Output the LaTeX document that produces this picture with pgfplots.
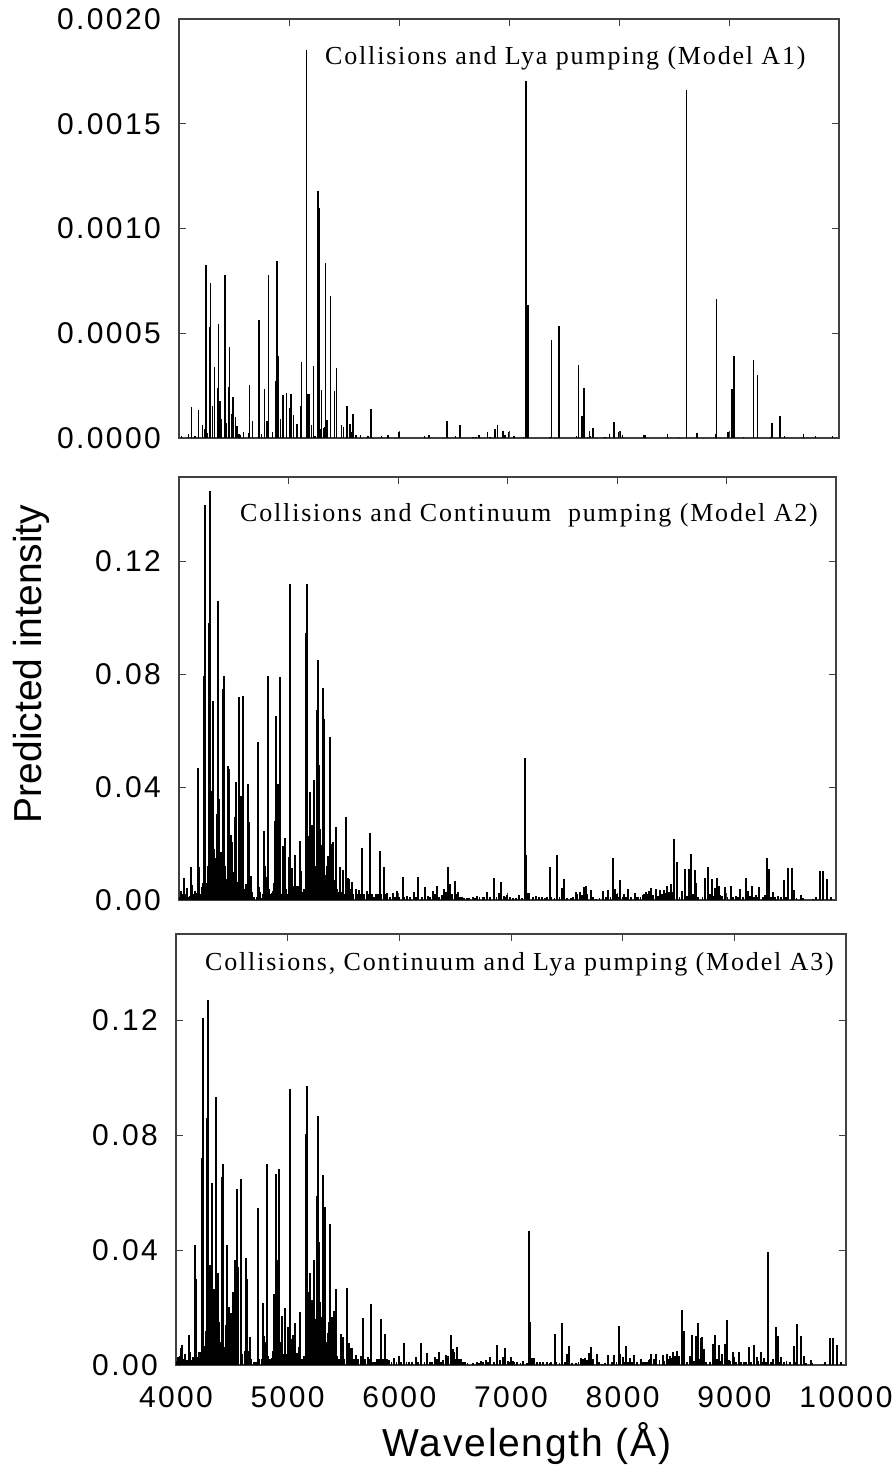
\documentclass[border=0pt]{standalone}
\usepackage{fontspec}
\usepackage{pgfplots}
\pgfplotsset{compat=1.18}
\setmainfont{Liberation Sans}
\newfontfamily\annot[LetterSpace=7]{Liberation Serif}
\newfontfamily\xlab[LetterSpace=4.5]{Liberation Sans}
\newfontfamily\ticklab[LetterSpace=8]{Liberation Sans}

\pgfplotsset{
  panel/.style={
    anchor=south west, scale only axis,
    xmin=4000, xmax=10000,
    axis line style={draw=black!75, line width=1.1pt},
    tick style={draw=black!75, line width=1pt},
    tick align=inside, major tick length=7pt,
    xtick={4000,5000,6000,7000,8000,9000,10000},
    xticklabels={},
    scaled x ticks=false, scaled y ticks=false,
    xtick pos=both, ytick pos=both,
    tick label style={font=\ticklab\fontsize{30}{35}\selectfont, inner sep=0pt},
    yticklabel shift=18pt, xticklabel shift=21pt,
    clip=true,
  },
  lines/.style={ycomb, draw=black, line width=1.8pt, no markers},
}

\begin{document}
\begin{tikzpicture}[x=1pt,y=1pt]
\path[use as bounding box] (0,0) rectangle (893,1472);

% Model A1
\begin{axis}[panel, at={(179pt,1034pt)}, width=660pt, height=419pt,
    ymin=0, ymax=0.0020,
    ytick={0,0.0005,0.0010,0.0015,0.0020},
    yticklabels={0.0000,0.0005,0.0010,0.0015,0.0020}]
\addplot[lines, line width=1.6pt] coordinates {
(4024,.00001)(4085,.00002)(4115,.00015)(4145,.00001)(4179,.000135)(4215,.000063)(4230,.000044)(4245,.000825)
(4260,.000024)(4279,.000532)(4288,.000738)(4303,.000154)(4321,.000338)(4351,.000238)(4360,.000543)(4373,.000175)
(4388,.00009)(4415,.000381)(4418,.000778)(4433,.00007)(4451,.000243)(4460,.000436)(4478,.000116)(4491,.000198)
(4515,.0001)(4527,.000059)(4545,.00002)(4557,.000016)(4588,.00003)(4633,.000024)(4642,.000252)(4667,.00008)
(4727,.000563)(4751,.00002)(4779,.000233)(4797,.000083)(4806,.000083)(4815,.000778)(4851,.000027)(4879,.00027)
(4891,.000844)(4903,.000389)(4921,.00009)(4948,.000206)(4976,.000214)(5003,.000143)(5018,.000211)(5042,.000111)
(5072,.000068)(5103,.000154)(5112,.000365)(5160,.00185)(5173,.000211)(5182,.000211)(5203,.000063)(5221,.000344)
(5239,.00001)(5263,.00118)(5272,.0011)(5282,.000043)(5297,.00023)(5312,.000048)(5324,.000052)(5333,.000833)
(5345,.000084)(5376,.000678)(5412,.000225)(5433,.000336)(5476,.000062)(5494,.000052)(5527,.000154)(5557,.000067)
(5566,.00003)(5582,.000116)(5609,.000016)(5651,.000016)(5718,.000011)(5745,.00014)(5842,.00001)(5900,.000016)
(6000,.00003)(6230,.00001)(6272,.000013)(6436,.000083)(6515,.00001)(6557,.00006)
(6670,.000005)(6700,.000005)(6727,.000016)(6806,.00003)(6827,.000005)(6873,.000044)(6894,.000063)(6945,.000032)
(6964,.000016)(6994,.000029)(7045,.000011)(7130,.000005)(7152,.001706)(7164,.000635)(7173,.000635)(7373,.000005)
(7385,.000468)(7452,.000535)(7615,.000011)(7633,.000349)(7664,.000106)(7682,.000238)(7712,.000005)(7730,.000035)
(7739,.000008)(7761,.000048)(7873,.000006)(7915,.000019)(7955,.000076)(7997,.000029)(8015,.000035)(8033,.000014)
(8227,.000013)(8240,.000014)(8442,.000021)(8542,.000003)(8612,.001659)(8709,.000024)(8879,.000021)(8888,.000663)
(8991,.000029)(9027,.000235)(9045,.000392)(9130,.000003)(9221,.000373)(9260,.000302)(9382,.000005)(9391,.000071)
(9461,.000103)(9506,.000011)(9676,.000019)(9788,.000008)(9942,.000008)
};
\end{axis}

% Model A2
\begin{axis}[panel, at={(179pt,572pt)}, width=657pt, height=423pt,
    ymin=0, ymax=0.15,
    ytick={0,0.04,0.08,0.12},
    yticklabels={0.00,0.04,0.08,0.12}]
\addplot[lines] coordinates {
(4018,.0033)(4027,.0021)(4043,.0077)(4055,.0015)(4070,.0043)(4085,.0012)(4107,.0116)(4122,.0053)(4137,.0012)(4146,.0031)
(4161,.0015)(4170,.0467)(4177,.0319)(4180,.0116)(4198,.0021)(4207,.0047)(4222,.0015)(4231,.0796)(4240,.14)(4253,.0045)
(4259,.0051)(4271,.0983)(4286,.1449)(4301,.0388)(4314,.0707)(4329,.0045)(4344,.0305)(4353,.1059)(4368,.0358)(4384,.0169)
(4399,.0027)(4405,.0749)(4414,.0796)(4429,.0075)(4447,.0474)(4460,.0463)(4472,.0232)(4487,.0205)(4508,.0296)(4521,.0418)
(4527,.0063)(4542,.0063)(4548,.0719)(4563,.037)(4572,.0116)(4581,.0722)(4603,.0027)(4612,.0057)(4627,.0412)(4639,.0276)
(4660,.0086)(4679,.0009)(4724,.0562)(4734,.0045)(4755,.0006)(4773,.0244)(4791,.0083)(4810,.0796)(4831,.0012)(4846,.0024)
(4855,.0031)(4874,.0279)(4886,.0654)(4901,.0412)(4907,.0412)(4919,.079)(4938,.0021)(4947,.0193)(4971,.022)(4989,.0021)
(5001,.0151)(5017,.1119)(5035,.0114)(5059,.0161)(5074,.0051)(5090,.0027)(5105,.0208)(5114,.0104)(5135,.0021)(5157,.0946)
(5169,.1119)(5178,.0228)(5196,.0382)(5218,.0267)(5233,.0424)(5248,.0063)(5257,.0674)(5269,.0852)(5282,.0477)(5297,.0196)
(5312,.0751)(5327,.0642)(5342,.0086)(5361,.0157)(5376,.0577)(5385,.0199)(5409,.0207)(5431,.026)(5449,.0009)(5473,.0118)
(5495,.0108)(5522,.0296)(5540,.0078)(5552,.0075)(5577,.0065)(5613,.0039)(5641,.0035)(5668,.0183)(5714,.0033)(5744,.0238)
(5759,.0021)(5799,.0021)(5836,.0175)(5869,.0118)(5902,.0024)(5951,.0025)(5988,.0033)(6042,.0083)(6085,.0013)(6146,.003)
(6186,.0083)(6246,.0047)(6277,.0013)(6316,.0031)(6353,.0051)(6399,.0019)(6420,.0039)(6453,.0118)(6475,.0057)(6517,.0069)
(6548,.0027)(6581,.0012)(6627,.0007)
(6688,.0009)(6724,.0015)(6773,.0009)(6810,.0027)(6874,.0077)(6925,.0024)(6944,.0065)(6965,.0013)(6995,.0019)(7047,.0007)
(7108,.0017)(7157,.0503)(7169,.0159)(7199,.0024)(7260,.0013)(7312,.0012)(7358,.0011)(7388,.0118)(7452,.0158)(7498,.0042)
(7513,.0074)(7580,.0007)(7622,.0027)(7659,.0027)(7699,.0045)(7714,.005)(7762,.0037)(7808,.0005)(7869,.0033)(7918,.0037)
(7960,.0149)(7979,.0039)(7997,.0021)(8027,.0071)(8067,.0021)(8097,.0039)(8161,.0025)(8195,.0009)(8234,.0019)(8262,.003)
(8292,.0033)(8310,.0041)(8356,.0039)(8393,.0037)(8429,.0037)(8457,.005)(8493,.0057)(8524,.0215)(8545,.0133)(8594,.0031)
(8621,.0109)(8657,.0111)(8676,.0163)(8709,.0106)(8724,.0061)(8807,.0079)(8828,.0116)(8864,.0076)(8895,.0041)(8913,.0078)
(8928,.005)(8986,.0046)(9041,.005)(9084,.0015)(9123,.0039)(9178,.0078)(9199,.0033)(9233,.0051)(9266,.0019)(9300,.0046)
(9351,.0019)(9370,.0149)(9391,.0111)(9422,.0027)(9473,.0013)(9528,.0072)(9561,.0113)(9595,.0113)(9616,.0035)(9680,.0018)
(9814,.0009)(9854,.0103)(9884,.0103)(9918,.0076)(9954,.0011)
};
% weak lines along the baseline
\addplot[lines] coordinates {
(4012,.0012)(4035,.0018)(4050,.0024)(4063,.002)(4078,.0012)(4095,.0014)(4115,.0016)(4130,.002)(4155,.0024)(4188,.0028)
(4215,.006)(4225,.0035)(4246,.006)(4264,.012)(4278,.03)(4293,.028)(4308,.022)(4322,.018)(4336,.015)(4361,.03)
(4376,.012)(4392,.009)(4421,.012)(4438,.006)(4454,.018)(4466,.014)(4480,.012)(4494,.009)(4503,.01)(4515,.012)
(4535,.006)(4556,.02)(4590,.004)(4620,.005)(4632,.01)(4648,.006)(4668,.003)(4690,.001)(4710,.001)(4745,.003)
(4765,.002)(4782,.012)(4800,.006)(4820,.004)(4840,.002)(4865,.006)(4880,.018)(4893,.03)(4913,.02)(4925,.009)
(4955,.005)(4962,.003)(4980,.004)(5010,.008)(5025,.01)(5045,.005)(5068,.004)(5082,.003)(5098,.005)(5125,.003)
(5145,.004)(5163,.03)(5185,.01)(5205,.012)(5225,.014)(5241,.012)(5262,.02)(5275,.03)(5290,.025)(5303,.012)
(5318,.03)(5335,.009)(5350,.012)(5368,.01)(5392,.006)(5402,.008)(5420,.007)(5440,.004)(5460,.003)(5485,.003)
(5505,.002)(5530,.006)(5560,.004)(5590,.002)(5625,.002)(5655,.002)(5690,.002)(5730,.002)(5780,.001)(5820,.002)
(5850,.002)(5885,.002)(5930,.001)(5970,.001)(6010,.001)(6060,.001)(6110,.001)(6165,.001)(6220,.001)(6295,.001)
(6335,.002)(6375,.001)(6435,.003)(6465,.003)(6495,.002)(6535,.002)(6565,.001)(6605,.0008)(6650,.0008)(6705,.0008)
(6745,.001)(6790,.001)(6840,.0012)(6900,.001)(6980,.001)(7020,.001)(7075,.0006)(7130,.0006)(7180,.0025)(7230,.0012)
(7285,.0012)(7340,.0008)(7400,.0012)(7430,.0006)(7475,.001)(7540,.0006)(7600,.0012)(7640,.002)(7680,.0018)(7730,.002)
(7780,.001)(7840,.0006)(7900,.001)(7940,.0012)(8010,.001)(8050,.0012)(8080,.0012)(8130,.001)(8180,.0012)(8215,.0012)
(8250,.002)(8280,.002)(8330,.0018)(8375,.0015)(8410,.002)(8440,.0025)(8475,.003)(8505,.003)(8570,.001)(8640,.0015)
(8695,.002)(8740,.0012)(8780,.001)(8850,.002)(8880,.0015)(8945,.0018)(8960,.0015)(9010,.0012)(9060,.0012)(9105,.0012)
(9150,.0012)(9215,.0015)(9250,.001)(9285,.0012)(9330,.001)(9405,.001)(9445,.001)(9500,.001)(9545,.001)(9640,.0008)
(9700,.0007)(9790,.0004)
};
\end{axis}

% Model A3
\begin{axis}[panel, at={(176pt,107pt)}, width=670pt, height=431pt,
    ymin=0, ymax=0.15,
    ytick={0,0.04,0.08,0.12},
    yticklabels={0.00,0.04,0.08,0.12},
    xticklabels={4000,5000,6000,7000,8000,9000,10000}]
\addplot[lines] coordinates {
(4021,.0029)(4045,.0058)(4054,.007)(4078,.0038)(4113,.0104)(4125,.0046)(4155,.0029)(4173,.0417)(4182,.0298)(4209,.0044)
(4233,.0719)(4242,.1209)(4257,.0041)(4275,.0858)(4287,.127)(4305,.0348)(4320,.0632)(4343,.0263)(4355,.0933)(4373,.0319)
(4388,.0151)(4412,.0655)(4418,.0698)(4433,.0064)(4454,.0417)(4460,.0406)(4472,.0203)(4490,.0182)(4508,.0255)(4525,.0365)
(4540,.0054)(4549,.0611)(4558,.034)(4579,.0104)(4582,.0647)(4627,.0371)(4639,.0301)(4666,.0096)(4731,.0545)(4737,.0041)
(4776,.0217)(4800,.0081)(4815,.0698)(4857,.0023)(4878,.0247)(4893,.0663)(4905,.0365)(4911,.0313)(4922,.0682)(4952,.017)
(4973,.0197)(5003,.0133)(5018,.0959)(5045,.0104)(5063,.0147)(5081,.0043)(5099,.0064)(5110,.0183)(5134,.0017)(5161,.0803)
(5173,.097)(5185,.0255)(5200,.0319)(5221,.0226)(5236,.0365)(5263,.0588)(5275,.0866)(5284,.0429)(5299,.0168)(5317,.0661)
(5331,.0551)(5349,.0081)(5367,.0151)(5379,.049)(5397,.0168)(5415,.0188)(5436,.0263)(5475,.0108)(5496,.0096)(5528,.0267)
(5546,.0075)(5561,.0058)(5579,.0058)(5615,.0035)(5654,.0031)(5675,.0162)(5720,.0029)(5746,.0214)(5761,.0012)(5800,.002)
(5836,.0159)(5869,.0108)(5905,.0017)(5952,.0023)(5994,.0031)(6045,.0075)(6090,.0012)(6149,.0027)(6191,.0075)(6248,.0041)
(6275,.0012)(6320,.0029)(6352,.0046)(6394,.0017)(6418,.0035)(6460,.0104)(6478,.0054)(6490,.0046)(6513,.0061)(6552,.0021)
(6588,.0012)
(6692,.0012)(6731,.0015)(6773,.0017)(6812,.0027)(6872,.0071)(6901,.0016)(6925,.0027)(6943,.0058)(6970,.0015)(6997,.0028)
(7015,.0015)(7054,.0012)(7110,.0015)(7161,.0465)(7173,.0148)(7203,.0023)(7263,.0012)(7319,.001)(7361,.0012)(7391,.0109)
(7454,.0146)(7498,.0038)(7516,.0066)(7582,.0006)(7624,.0026)(7660,.0023)(7695,.0041)(7713,.0063)(7767,.0038)(7812,.0003)
(7866,.0035)(7919,.0034)(7964,.0134)(7979,.0037)(8000,.0029)(8027,.0066)(8066,.0023)(8098,.0035)(8161,.0021)(8200,.0012)
(8236,.0017)(8257,.0039)(8295,.0037)(8358,.0034)(8394,.0038)(8427,.0032)(8451,.0044)(8490,.005)(8528,.0192)(8549,.0118)
(8603,.0032)(8621,.0104)(8654,.0101)(8675,.0146)(8698,.0094)(8710,.0096)(8728,.0054)(8809,.0073)(8827,.0104)(8863,.007)
(8892,.0037)(8916,.0072)(8934,.0155)(8985,.0044)(9000,.0028)(9039,.0045)(9083,.0012)(9128,.0064)(9179,.007)(9200,.0029)
(9236,.0046)(9266,.0023)(9301,.0392)(9349,.002)(9373,.0133)(9394,.0102)(9421,.0027)(9468,.0013)(9531,.0066)(9561,.0144)
(9594,.0101)(9621,.0031)(9684,.0016)(9815,.0009)(9857,.0093)(9887,.0093)(9919,.007)(9955,.0012)
};
% weak lines along the baseline
\addplot[lines] coordinates {
(4012,.0015)(4032,.0032)(4066,.0022)(4088,.0014)(4100,.0016)(4135,.0018)(4148,.0022)(4165,.0024)(4192,.0028)(4220,.0045)
(4226,.0035)(4250,.0065)(4266,.012)(4282,.03)(4296,.026)(4312,.022)(4328,.016)(4338,.014)(4364,.028)(4380,.012)
(4395,.008)(4425,.011)(4440,.006)(4448,.014)(4466,.014)(4482,.012)(4497,.009)(4515,.012)(4532,.006)(4555,.018)
(4592,.004)(4618,.005)(4632,.009)(4650,.005)(4672,.002)(4695,.001)(4715,.001)(4748,.002)(4768,.002)(4785,.01)
(4806,.005)(4825,.003)(4845,.002)(4868,.005)(4884,.016)(4898,.026)(4916,.018)(4930,.008)(4960,.004)(4985,.004)
(5011,.007)(5028,.009)(5052,.004)(5072,.004)(5090,.003)(5104,.005)(5126,.002)(5148,.003)(5167,.026)(5192,.009)
(5210,.011)(5228,.012)(5244,.011)(5256,.016)(5270,.028)(5291,.022)(5306,.011)(5324,.026)(5340,.008)(5356,.011)
(5373,.009)(5390,.006)(5405,.007)(5425,.006)(5445,.003)(5460,.002)(5485,.002)(5508,.002)(5535,.005)(5568,.003)
(5595,.002)(5630,.002)(5665,.002)(5695,.002)(5735,.002)(5782,.001)(5818,.002)(5852,.002)(5888,.002)(5930,.001)
(5975,.001)(6012,.001)(6065,.001)(6115,.001)(6170,.001)(6225,.001)(6295,.001)(6335,.002)(6375,.001)(6435,.003)
(6470,.003)(6500,.002)(6535,.002)(6570,.001)(6610,.0008)(6660,.0008)(6710,.0008)(6750,.001)(6795,.001)(6845,.0012)
(6905,.001)(6985,.001)(7030,.001)(7085,.0006)(7140,.0006)(7185,.0025)(7235,.0012)(7290,.0012)(7345,.0008)(7405,.0012)
(7435,.0006)(7480,.001)(7545,.0006)(7605,.0012)(7645,.002)(7680,.0018)(7735,.002)(7785,.001)(7845,.0006)(7905,.001)
(7945,.0012)(8015,.001)(8050,.0012)(8080,.0012)(8130,.001)(8180,.0012)(8220,.0012)(8245,.002)(8280,.002)(8330,.0018)
(8375,.0015)(8410,.002)(8440,.0025)(8470,.003)(8505,.003)(8575,.001)(8640,.0015)(8690,.002)(8745,.0012)(8785,.001)
(8845,.002)(8880,.0015)(8950,.0018)(8965,.0015)(9015,.0012)(9060,.0012)(9105,.0012)(9150,.0012)(9215,.0015)(9250,.001)
(9285,.0012)(9330,.001)(9405,.001)(9445,.001)(9500,.001)(9545,.001)(9640,.0008)(9700,.0007)(9790,.0004)
};
\end{axis}

\node[anchor=west, inner sep=0pt, font=\annot\fontsize{26}{30}\selectfont] at (325,1414) {Collisions and Lya pumping (Model A1)};
\node[anchor=west, inner sep=0pt, font=\annot\fontsize{26}{30}\selectfont] at (240,957) {Collisions and Continuum\ \ pumping (Model A2)};
\node[anchor=west, inner sep=0pt, font=\annot\fontsize{26}{30}\selectfont] at (205,508) {Collisions, Continuum and Lya pumping (Model A3)};
\node[rotate=90, inner sep=0pt, font=\fontsize{39}{44}\selectfont] at (31,808) {Predicted intensity};
\node[inner sep=0pt, font=\xlab\fontsize{39}{44}\selectfont] at (527,28) {Wavelength (Å)};
\end{tikzpicture}
\end{document}
